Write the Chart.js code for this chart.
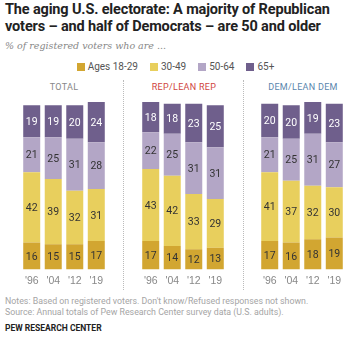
<!DOCTYPE html>
<html>
<head>
<meta charset="utf-8">
<script src="https://cdn.jsdelivr.net/npm/chart.js@4/dist/chart.umd.min.js"></script>
<style>
  body { margin: 0; background: #fff; }
  #wrap { position: relative; width: 351px; height: 338px; overflow: hidden; font-family: Roboto, "Liberation Sans", sans-serif; }
  .title { position: absolute; left: 5px; top: 1px; width: 345px; font-weight: bold; font-size: 14.5px; line-height: 17px; color: #222; letter-spacing: -0.15px; }
  .sub { position: absolute; left: 5px; top: 40px; font-family: "DejaVu Serif", serif; font-style: italic; font-size: 9.5px; color: #888; }
  #legend { position: absolute; left: 0; top: 61px; width: 351px; text-align: center; font-size: 10px; color: #555; }
  #legend span.item { margin: 0 6px; white-space: nowrap; }
  #legend i { display: inline-block; width: 8px; height: 8px; margin-right: 3px; vertical-align: -1px; }
  .ptitle { position: absolute; top: 82px; width: 120px; text-align: center; font-size: 9px; letter-spacing: 0.3px; }
  .div { position: absolute; top: 80px; height: 210px; width: 0; border-left: 1px dotted #bbb; }
  .chart { position: absolute; top: 102px; width: 88px; height: 190px; }
  .note { position: absolute; left: 5px; font-size: 8.8px; color: #a5a5a5; white-space: nowrap; }
  .pew { position: absolute; left: 5px; top: 323px; font-size: 8.5px; font-weight: bold; color: #222; }
</style>
</head>
<body>
<div id="wrap">
  <div class="title">The aging U.S. electorate: A majority of Republican voters &ndash; and half of Democrats &ndash; are 50 and older</div>
  <div class="sub">% of registered voters who are ...</div>
  <div id="legend"></div>
  <div class="ptitle" style="left:4px;color:#888;">TOTAL</div>
  <div class="ptitle" style="left:124px;color:#d0453e;">REP/LEAN REP</div>
  <div class="ptitle" style="left:243px;color:#5a86ad;">DEM/LEAN DEM</div>
  <div class="div" style="left:123px;"></div>
  <div class="div" style="left:243px;"></div>
  <div class="chart" style="left:20px;"><canvas id="c1"></canvas></div>
  <div class="chart" style="left:139px;"><canvas id="c2"></canvas></div>
  <div class="chart" style="left:258px;"><canvas id="c3"></canvas></div>
  <div class="note" style="top:296px;">Notes: Based on registered voters. Don't know/Refused responses not shown.</div>
  <div class="note" style="top:307px;">Source: Annual totals of Pew Research Center survey data (U.S. adults).</div>
  <div class="pew">PEW RESEARCH CENTER</div>
</div>
<script>
const years = ["'96", "'04", "'12", "'19"];
const ageGroups = ['Ages 18-29', '30-49', '50-64', '65+'];
const colors = ['#d2a631', '#e8cf5d', '#b3a6c6', '#6f5f8c'];
const labelColors = ['#333', '#333', '#333', '#fff'];

// each panel: one array per age group, in year order
const total18 = [16, 15, 15, 17];
const total30 = [42, 39, 32, 31];
const total50 = [21, 25, 31, 28];
const total65 = [19, 19, 20, 24];

const rep18 = [17, 14, 12, 13];
const rep30 = [43, 42, 33, 29];
const rep50 = [22, 25, 31, 31];
const rep65 = [18, 18, 23, 25];

const dem18 = [17, 16, 18, 19];
const dem30 = [41, 37, 32, 30];
const dem50 = [21, 25, 31, 27];
const dem65 = [20, 20, 19, 23];

// legend
const legend = document.getElementById('legend');
ageGroups.forEach((g, i) => {
  const s = document.createElement('span');
  s.className = 'item';
  s.innerHTML = '<i style="background:' + colors[i] + '"></i>' + g;
  legend.appendChild(s);
});

// draw the value in the middle of each segment
const valueLabels = {
  id: 'valueLabels',
  afterDatasetsDraw(chart) {
    const ctx = chart.ctx;
    ctx.save();
    ctx.font = '10.5px Roboto, "Liberation Sans", sans-serif';
    ctx.textAlign = 'center';
    ctx.textBaseline = 'middle';
    chart.data.datasets.forEach((ds, i) => {
      chart.getDatasetMeta(i).data.forEach((bar, j) => {
        ctx.fillStyle = labelColors[i];
        ctx.fillText(ds.data[j], bar.x, (bar.y + bar.base) / 2 + 1);
      });
    });
    ctx.restore();
  }
};

function makePanel(id, series) {
  new Chart(document.getElementById(id), {
    type: 'bar',
    data: {
      labels: years,
      datasets: series.map((d, i) => ({
        label: ageGroups[i],
        data: d,
        backgroundColor: colors[i],
        borderWidth: 0,
        categoryPercentage: 1,
        barPercentage: 0.79
      }))
    },
    options: {
      responsive: true,
      maintainAspectRatio: false,
      animation: false,
      layout: { padding: 0 },
      plugins: { legend: { display: false }, tooltip: { enabled: false } },
      scales: {
        x: {
          stacked: true,
          grid: { display: false, drawTicks: false },
          border: { display: false },
          ticks: { color: '#888', font: { size: 10.5 }, padding: 5, autoSkip: false, maxRotation: 0 }
        },
        y: { stacked: true, display: false, min: 0, max: 100 }
      }
    },
    plugins: [valueLabels]
  });
}

makePanel('c1', [total18, total30, total50, total65]);
makePanel('c2', [rep18, rep30, rep50, rep65]);
makePanel('c3', [dem18, dem30, dem50, dem65]);
</script>
</body>
</html>
